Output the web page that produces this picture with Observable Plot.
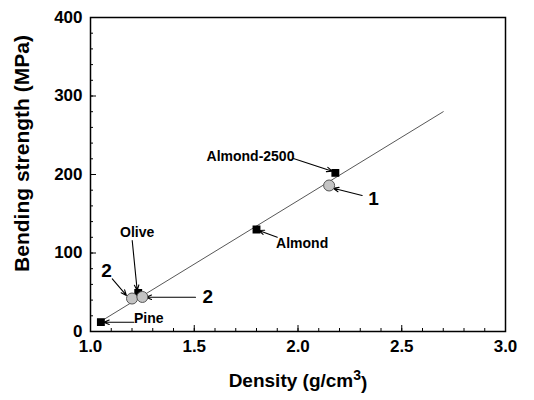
<!DOCTYPE html>
<html>
<head>
<meta charset="utf-8">
<script src="https://cdn.jsdelivr.net/npm/d3@7"></script>
<script src="https://cdn.jsdelivr.net/npm/@observablehq/plot@0.6"></script>
<style>
  html, body { margin: 0; padding: 0; background: #fff; }
  svg { font-family: "Liberation Sans", Arial, sans-serif; }
</style>
</head>
<body>
<div id="chart"></div>
<script>
// Measured samples (squares)
const sampleNames = ["Pine", "Olive", "Almond", "Almond-2500"];
const sampleDensity = [1.05, 1.23, 1.80, 2.18];
const sampleStrength = [12, 49, 130, 202];

// Literature points (circles)
const refLabels = ["2", "2", "1"];
const refDensity = [1.20, 1.25, 2.15];
const refStrength = [42, 44, 186];

// Linear fit line end points
const fitDensity = [1.05, 2.70];
const fitStrength = [13, 280];

// Annotations
const annoText = ["Almond-2500", "1", "Almond", "Olive", "2", "2", "Pine"];
const annoX = [1.771, 2.364, 2.020, 1.225, 1.077, 1.565, 1.281];
const annoY = [222.9, 169.4, 112.5, 125.7, 76.8, 44.6, 16.9];
const arrowX1 = [1.978, 2.309, 1.900, 1.201, 1.105, 1.506, 1.209];
const arrowY1 = [220.4, 173.2, 120.1, 115.9, 67.1, 43.7, 11.8];
const arrowX2 = [2.165, 2.170, 1.811, 1.225, 1.173, 1.268, 1.064];
const arrowY2 = [204.2, 182.5, 128.7, 52.2, 45.9, 43.7, 11.8];

const xMajor = [1.0, 1.5, 2.0, 2.5, 3.0];
const yMajor = [0, 100, 200, 300, 400];

const samples = sampleNames.map((n, i) => ({name: n, x: sampleDensity[i], y: sampleStrength[i]}));
const refs = refLabels.map((n, i) => ({name: n, x: refDensity[i], y: refStrength[i]}));
const fit = fitDensity.map((d, i) => ({x: d, y: fitStrength[i]}));
const annos = annoText.map((t, i) => ({
  t, x: annoX[i], y: annoY[i], x1: arrowX1[i], y1: arrowY1[i], x2: arrowX2[i], y2: arrowY2[i]
}));

const xMinor = d3.range(10, 31).map(v => v / 10);
const yMinor = d3.range(0, 401, 20);

const chart = Plot.plot({
  width: 534,
  height: 400,
  marginLeft: 90,
  marginRight: 29,
  marginTop: 17,
  marginBottom: 69,
  style: {fontFamily: "'Liberation Sans', Arial, sans-serif", color: "#000", background: "#fff"},
  x: {domain: [1, 3]},
  y: {domain: [0, 400]},
  marks: [
    // minor ticks (inward)
    Plot.axisX({ticks: xMinor, tickSize: -3, text: null, label: null, stroke: "#000"}),
    Plot.axisY({ticks: yMinor, tickSize: -3, text: null, label: null, stroke: "#000"}),
    // major ticks (inward)
    Plot.axisX({ticks: xMajor, tickSize: -6, text: null, label: null, stroke: "#000"}),
    Plot.axisY({ticks: yMajor, tickSize: -6, text: null, label: null, stroke: "#000"}),
    // tick labels
    Plot.axisX({ticks: xMajor, tickSize: 0, tickPadding: 8, tickFormat: d3.format(".1f"),
      fontSize: 17, fontWeight: "bold", label: "Density (g/cm3)", labelAnchor: "center",
      labelArrow: "none", labelOffset: 55}),
    Plot.axisY({ticks: yMajor, tickSize: 0, tickPadding: 8, tickFormat: d3.format("d"),
      fontSize: 17, fontWeight: "bold", label: null}),
    Plot.frame({stroke: "#000", strokeWidth: 1.5}),
    // fit line
    Plot.line(fit, {x: "x", y: "y", stroke: "#444", strokeWidth: 0.9}),
    // arrows
    Plot.arrow(annos, {x1: "x1", y1: "y1", x2: "x2", y2: "y2", stroke: "#000", strokeWidth: 1.1,
      headLength: 8, headAngle: 45}),
    // points
    Plot.dot(samples, {x: "x", y: "y", symbol: "square", r: 3.6, fill: "#000", stroke: "#000"}),
    Plot.dot(refs, {x: "x", y: "y", r: 5.5, fill: "#c4c4c4", stroke: "#555", strokeWidth: 1}),
    // annotation labels
    Plot.text(annos, {x: "x", y: "y", text: "t", fill: "#000", fontWeight: "bold",
      fontSize: d => (d.t.length === 1 ? 19 : 14)}),
    // y axis title
    Plot.text(["Bending strength (MPa)"], {frameAnchor: "left", text: d => d, rotate: -90,
      textAnchor: "middle", dx: -68, dy: -21, fontSize: 21, fontWeight: "bold", fill: "#000"})
  ]
});

document.getElementById("chart").appendChild(chart);

// superscript for x label
d3.select(chart).selectAll("text").each(function() {
  const el = d3.select(this);
  if (el.text() === "Density (g/cm3)") {
    el.text(null);
    el.attr("font-size", 19).attr("font-weight", "bold");
    el.append("tspan").text("Density (g/cm");
    el.append("tspan").attr("dy", "-0.45em").attr("font-size", 14).text("3");
    el.append("tspan").attr("dy", "0.45em").text(")");
  }
});
</script>
</body>
</html>
